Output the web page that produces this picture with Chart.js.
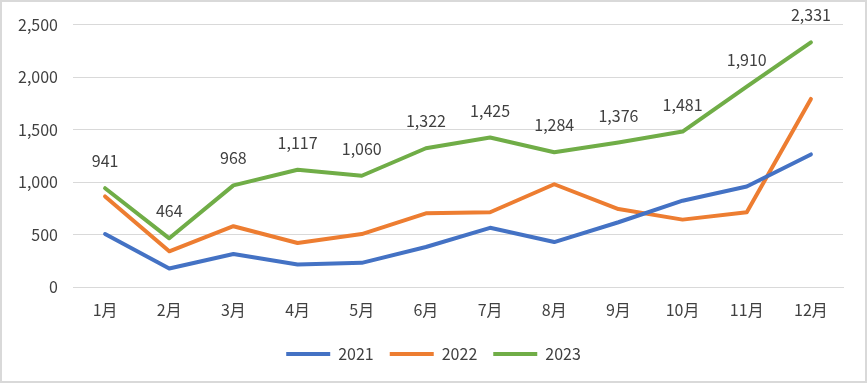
<!DOCTYPE html>
<html><head><meta charset="utf-8">
<script src="https://cdn.jsdelivr.net/npm/chart.js@4/dist/chart.umd.min.js"></script>
<style>html,body{margin:0;padding:0;background:#fff}#wrap{width:867px;height:383px;position:relative}</style>
</head><body><div id="wrap"><canvas id="c" width="867" height="383"></canvas></div>
<script>
const months = ['1月','2月','3月','4月','5月','6月','7月','8月','9月','10月','11月','12月'];
const seriesNames = ['2021','2022','2023'];
const v2021 = [505,176,315,214,230,381,564,428,617,822,957,1263];
const v2022 = [863,340,579,419,504,702,712,979,743,642,712,1792];
const v2023 = [941,464,968,1117,1060,1322,1425,1284,1376,1481,1910,2331];
const colors = ['#4472C4','#ED7D31','#70AD47'];
const FONT = '"Noto Sans CJK SC","Noto Sans",sans-serif';
const TXT = '#404040';

const borderPlugin = {
  id:'frame',
  beforeDraw(chart){
    const ctx = chart.ctx; ctx.save();
    ctx.fillStyle='#fff'; ctx.fillRect(0,0,chart.width,chart.height);
    ctx.strokeStyle='#d9d9d9'; ctx.lineWidth=2;
    ctx.strokeRect(1,1,chart.width-2,chart.height-2);
    ctx.restore();
  }
};
const labelPlugin = {
  id:'dlabels',
  afterDatasetsDraw(chart){
    const ctx = chart.ctx; const meta = chart.getDatasetMeta(2);
    ctx.save(); ctx.font = '16px '+FONT; ctx.fillStyle = TXT;
    ctx.textAlign='center'; ctx.textBaseline='middle';
    meta.data.forEach((pt,i)=>{
      ctx.fillText(v2023[i].toLocaleString('en-US'), pt.x, pt.y-27);
    });
    ctx.restore();
  }
};

new Chart(document.getElementById('c'),{
  type:'line',
  data:{labels:months,datasets:[v2021,v2022,v2023].map((d,i)=>({
    label:seriesNames[i],data:d,borderColor:colors[i],backgroundColor:colors[i],
    borderWidth:4,pointRadius:0,tension:0,borderCapStyle:'round',borderJoinStyle:'round',
    pointStyle:'line'}))},
  options:{
    responsive:false,animation:false,
    layout:{padding:{left:0,right:0,top:24,bottom:11}},
    plugins:{
      tooltip:{enabled:false},
      legend:{position:'bottom',labels:{usePointStyle:true,pointStyleWidth:44,boxHeight:16,
        color:TXT,font:{family:FONT,size:16},padding:16}}
    },
    scales:{
      x:{offset:true,grid:{display:false,drawTicks:false},border:{color:'#d9d9d9',width:1},
         ticks:{color:TXT,font:{family:FONT,size:16},padding:13,maxRotation:0},
         afterFit(s){s.height=43;}},
      y:{min:0,max:2500,grid:{color:'#d9d9d9',lineWidth:1,drawTicks:false},border:{display:false},
         ticks:{stepSize:500,color:TXT,font:{family:FONT,size:16},padding:15,
           callback:v=>v.toLocaleString('en-US')},
         afterFit(s){s.width=73;}},
      yr:{position:'right',display:true,grid:{display:false,drawTicks:false},border:{display:false},
         ticks:{display:false},afterFit(s){s.width=24;}}
    }
  },
  plugins:[borderPlugin,labelPlugin]
});
</script></body></html>
